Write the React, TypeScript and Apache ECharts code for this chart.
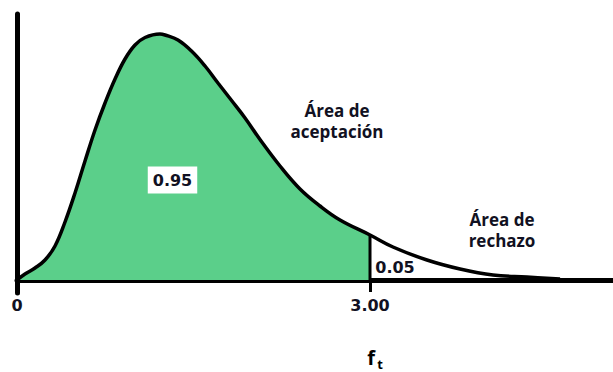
import { useEffect, useRef } from "react";
import * as echarts from "echarts";

// Curve (x in f units, y in relative density)
const curveX = [0, 0.068, 0.153, 0.238, 0.323, 0.408, 0.493, 0.578, 0.663, 0.748, 0.833, 0.918, 1.003, 1.088, 1.215, 1.258, 1.368, 1.487, 1.598, 1.708, 1.827, 1.938, 2.065, 2.235, 2.405, 2.575, 2.745, 3.0, 3.195, 3.484, 3.765, 4.045, 4.334, 4.615];
const curveY = [0, 0.024, 0.048, 0.08, 0.136, 0.232, 0.348, 0.476, 0.6, 0.708, 0.804, 0.884, 0.94, 0.97, 0.984, 0.98, 0.96, 0.914, 0.856, 0.788, 0.716, 0.648, 0.562, 0.456, 0.364, 0.296, 0.24, 0.18, 0.132, 0.08, 0.044, 0.02, 0.012, 0.004];
const criticalValue = 3.0;
const tickValues = [0, 3];
const tickLabels = ["0", "3.00"];
const acceptArea = "0.95";
const rejectArea = "0.05";
const acceptLabel = ["Área de", "aceptación"];
const rejectLabel = ["Área de", "rechazo"];
const axisNameMain = "f";
const axisNameSub = "t";

const GREEN = "#5bcf8a";
const INK = "#111122";
const NUM_FONT = "DejaVu Sans";
const TXT_FONT = "Open Sans";

export default function App() {
  const ref = useRef<HTMLDivElement>(null);
  useEffect(() => {
    const chart = echarts.init(ref.current!, null, { renderer: "svg" });
    const points = curveX.map((x, i) => [x, curveY[i]]);
    const accept = points.filter((p) => p[0] <= criticalValue);
    const critY = curveY[curveX.indexOf(criticalValue)];
    const lineText = (text: string, x: number, y: number) => ({
      type: "text",
      x,
      y,
      z: 10,
      style: {
        text,
        font: `bold 17px "${TXT_FONT}"`,
        fill: INK,
        align: "center",
        verticalAlign: "middle",
      },
    });
    chart.setOption({
      animation: false,
      grid: { left: 17, right: 0, top: 14, bottom: 79 },
      xAxis: {
        type: "value",
        min: 0,
        max: 5.065,
        axisLine: { show: true, onZero: true, lineStyle: { color: "#000", width: 5, cap: "round" } },
        axisTick: { show: true, customValues: [criticalValue], length: 12, lineStyle: { color: "#000", width: 3 } },
        axisLabel: {
          customValues: tickValues,
          formatter: (v: number) => {
            const i = tickValues.indexOf(v);
            return i >= 0 ? tickLabels[i] : "";
          },
          margin: 4,
          fontFamily: NUM_FONT,
          fontWeight: "bold",
          fontSize: 16,
          color: INK,
        },
        splitLine: { show: false },
      },
      yAxis: {
        type: "value",
        min: -0.052,
        max: 1.064,
        axisLine: { show: true, onZero: false, lineStyle: { color: "#000", width: 5, cap: "round" } },
        axisTick: { show: false },
        axisLabel: { show: false },
        splitLine: { show: false },
      },
      series: [
        {
          type: "line",
          data: accept,
          smooth: 0.4,
          symbol: "none",
          lineStyle: { width: 0 },
          areaStyle: { color: GREEN, opacity: 1 },
          z: 1,
        },
        {
          type: "line",
          data: points,
          smooth: 0.4,
          symbol: "none",
          lineStyle: { color: "#000", width: 3.5 },
          z: 3,
        },
        {
          type: "line",
          data: [
            [criticalValue, 0],
            [criticalValue, critY],
          ],
          symbol: "none",
          lineStyle: { color: "#000", width: 3 },
          z: 3,
        },
      ],
      graphic: [
        {
          type: "text",
          x: 172.5,
          y: 180,
          z: 10,
          style: {
            text: acceptArea,
            font: `bold 16px "${NUM_FONT}"`,
            fill: INK,
            align: "center",
            verticalAlign: "middle",
            backgroundColor: "#fff",
            padding: [6, 5, 5, 5],
          },
        },
        {
          type: "text",
          x: 395,
          y: 267,
          z: 10,
          style: {
            text: rejectArea,
            font: `bold 16px "${NUM_FONT}"`,
            fill: INK,
            align: "center",
            verticalAlign: "middle",
          },
        },
        lineText(acceptLabel[0], 337, 110.5),
        lineText(acceptLabel[1], 337, 131),
        lineText(rejectLabel[0], 502, 219.5),
        lineText(rejectLabel[1], 502, 240),
        {
          type: "text",
          x: 371,
          y: 357,
          style: {
            text: axisNameMain,
            font: `bold 20px "${TXT_FONT}"`,
            fill: "#000",
            align: "center",
            verticalAlign: "middle",
          },
        },
        {
          type: "text",
          x: 380,
          y: 364,
          style: {
            text: axisNameSub,
            font: `bold 13px "${TXT_FONT}"`,
            fill: "#000",
            align: "center",
            verticalAlign: "middle",
          },
        },
      ],
    });
    return () => chart.dispose();
  }, []);
  return (
    <div
      ref={ref}
      style={{ position: "absolute", left: 0, top: 0, width: 613, height: 372, background: "#fff" }}
    />
  );
}
